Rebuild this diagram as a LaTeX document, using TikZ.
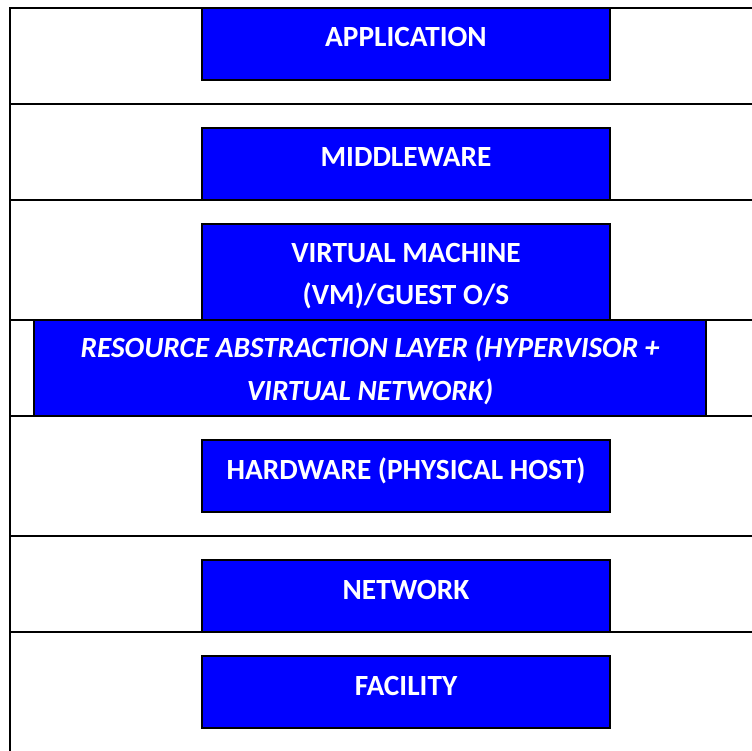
\documentclass[tikz,border=0pt]{standalone}
\usepackage{fontspec}
\setmainfont{Carlito}
\begin{document}
\begin{tikzpicture}[x=1pt,y=-1pt,
  layerbox/.style={draw=black,line width=1.6pt,fill=blue,rectangle,inner sep=0pt,outer sep=0pt},
  lbl/.style={text=white,font=\fontsize{29.3}{43}\selectfont\bfseries,inner sep=0pt,align=center},
  rule/.style={draw=black,line width=1.6pt}]
\useasboundingbox (0,0) rectangle (752,751);
% frame and layer separators
\coordinate (tl) at (10,8);
\coordinate (tr) at (752,8);
\coordinate (bl) at (10,751);
\draw[rule] (bl) -- (tl) -- (tr);
\foreach \yy in {104,200,320,416,536,632}{
  \draw[rule] (10,\yy) -- (752,\yy);
}
% boxes
\node[layerbox,minimum width=408pt,minimum height=72pt] (app) at (406,44) {};
\node[layerbox,minimum width=408pt,minimum height=72pt] (mid) at (406,164) {};
\node[layerbox,minimum width=408pt,minimum height=96pt] (vm) at (406,272) {};
\node[layerbox,minimum width=672pt,minimum height=96pt] (ral) at (370,368) {};
\node[layerbox,minimum width=408pt,minimum height=72pt] (hw) at (406,476) {};
\node[layerbox,minimum width=408pt,minimum height=72pt] (net) at (406,596) {};
\node[layerbox,minimum width=408pt,minimum height=72pt] (fac) at (406,692) {};
% labels (base anchor = baseline of last line)
\node[lbl,anchor=base] (tapp) at ([yshift=-39pt]app.north) {APPLICATION};
\node[lbl,anchor=base] (tmid) at ([yshift=-39pt]mid.north) {MIDDLEWARE};
\node[lbl,anchor=base] (tvm) at ([yshift=-81pt]vm.north) {VIRTUAL MACHINE\\(VM)/GUEST O/S};
\node[lbl,anchor=base,font=\fontsize{29.3}{42.5}\selectfont\bfseries\itshape] (tral) at ([yshift=-80pt]ral.north) {RESOURCE ABSTRACTION LAYER (HYPERVISOR +\\VIRTUAL NETWORK)};
\node[lbl,anchor=base] (thw) at ([yshift=-39pt]hw.north) {HARDWARE (PHYSICAL HOST)};
\node[lbl,anchor=base] (tnet) at ([yshift=-39pt]net.north) {NETWORK};
\node[lbl,anchor=base] (tfac) at ([yshift=-39pt]fac.north) {FACILITY};
\end{tikzpicture}
\end{document}
